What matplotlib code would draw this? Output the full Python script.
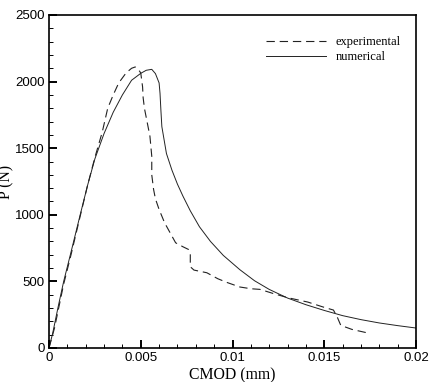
import matplotlib
matplotlib.use("Agg")
import matplotlib.pyplot as plt
from matplotlib.ticker import MultipleLocator, FixedFormatter, FixedLocator

plt.rcParams['lines.scale_dashes'] = False

# Load P (N) vs. crack mouth opening displacement CMOD (mm)
exp_cmod = [0.0, 0.0003, 0.0008, 0.0012, 0.0017, 0.0021, 0.0025, 0.0029, 0.0032,
            0.0035, 0.0038, 0.0042, 0.0045, 0.0047, 0.0049, 0.0050, 0.0051, 0.00513,
            0.0052, 0.0054, 0.0055, 0.0056, 0.0056, 0.0057, 0.0058, 0.0060, 0.0063,
            0.0066, 0.0069, 0.0073, 0.0076, 0.0077, 0.0077, 0.0079, 0.0086, 0.0092,
            0.0097, 0.0104, 0.0110, 0.0115, 0.0122, 0.0130, 0.0141, 0.0150, 0.0155,
            0.0157, 0.0159, 0.0165, 0.0173]
exp_load = [0, 150, 480, 700, 990, 1220, 1430, 1620, 1800,
            1900, 1990, 2065, 2100, 2110, 2085, 2065, 1960, 1880,
            1800, 1660, 1590, 1440, 1300, 1190, 1120, 1040, 940,
            865, 790, 760, 740, 700, 610, 585, 565, 520,
            492, 458, 445, 440, 410, 378, 345, 305, 285,
            235, 170, 140, 115]

num_cmod = [0.0, 0.0002, 0.0005, 0.0008, 0.0012, 0.0017, 0.0021, 0.0025, 0.0030,
            0.0035, 0.0040, 0.0045, 0.0050, 0.0053, 0.0056, 0.0058, 0.0060, 0.00605,
            0.0061, 0.00615, 0.0064, 0.0067, 0.0070, 0.0073, 0.0077, 0.0082, 0.0088,
            0.0095, 0.0104, 0.0112, 0.0120, 0.0130, 0.0140, 0.0150, 0.0160, 0.0170,
            0.0180, 0.0190, 0.0200]
num_load = [0, 110, 310, 500, 720, 1000, 1220, 1420, 1610,
            1770, 1900, 2010, 2062, 2085, 2092, 2060, 1990, 1912,
            1780, 1662, 1460, 1335, 1230, 1140, 1030, 910, 800,
            695, 588, 505, 440, 375, 325, 282, 243, 213,
            188, 168, 150]

x_ticks = [0, 0.005, 0.01, 0.015, 0.02]
x_labels = ["0", "0.005", "0.01", "0.015", "0.02"]
y_ticks = [0, 500, 1000, 1500, 2000, 2500]
y_labels = ["0", "500", "1000", "1500", "2000", "2500"]

fig = plt.figure(figsize=(4.30, 3.82), dpi=100)
ax = fig.add_axes([49 / 430, 34 / 382, 367 / 430, 333 / 382])

ax.plot(exp_cmod, exp_load, color="#222222", lw=0.8, dashes=(6, 3.5),
        label="experimental")
ax.plot(num_cmod, num_load, color="#222222", lw=0.7, label="numerical")

ax.set_xlim(0, 0.02)
ax.set_ylim(0, 2500)

ax.xaxis.set_major_locator(FixedLocator(x_ticks))
ax.xaxis.set_major_formatter(FixedFormatter(x_labels))
ax.yaxis.set_major_locator(FixedLocator(y_ticks))
ax.yaxis.set_major_formatter(FixedFormatter(y_labels))
ax.xaxis.set_minor_locator(MultipleLocator(0.001))
ax.yaxis.set_minor_locator(MultipleLocator(100))

ax.tick_params(which="both", direction="in", top=False, right=False, color="black")
ax.tick_params(which="major", length=6, width=1.4, pad=3,
               labelsize=9.5, labelfontfamily="Liberation Sans")
ax.tick_params(which="minor", length=3, width=0.7)

for sp in ax.spines.values():
    sp.set_linewidth(1.2)
    sp.set_color("black")

ax.set_xlabel("CMOD (mm)", fontfamily="Liberation Serif", fontsize=11.3, labelpad=2)
ax.set_ylabel("P (N)", fontfamily="Liberation Serif", fontsize=11.3)
ax.yaxis.set_label_coords(-0.093, 0.5)

leg = ax.legend(loc="upper right", bbox_to_anchor=(0.99, 0.97), frameon=False,
                prop={"family": "Liberation Serif", "size": 9},
                handlelength=4.8, handletextpad=0.8, labelspacing=0.25)

fig.savefig("out.png", dpi=100)
